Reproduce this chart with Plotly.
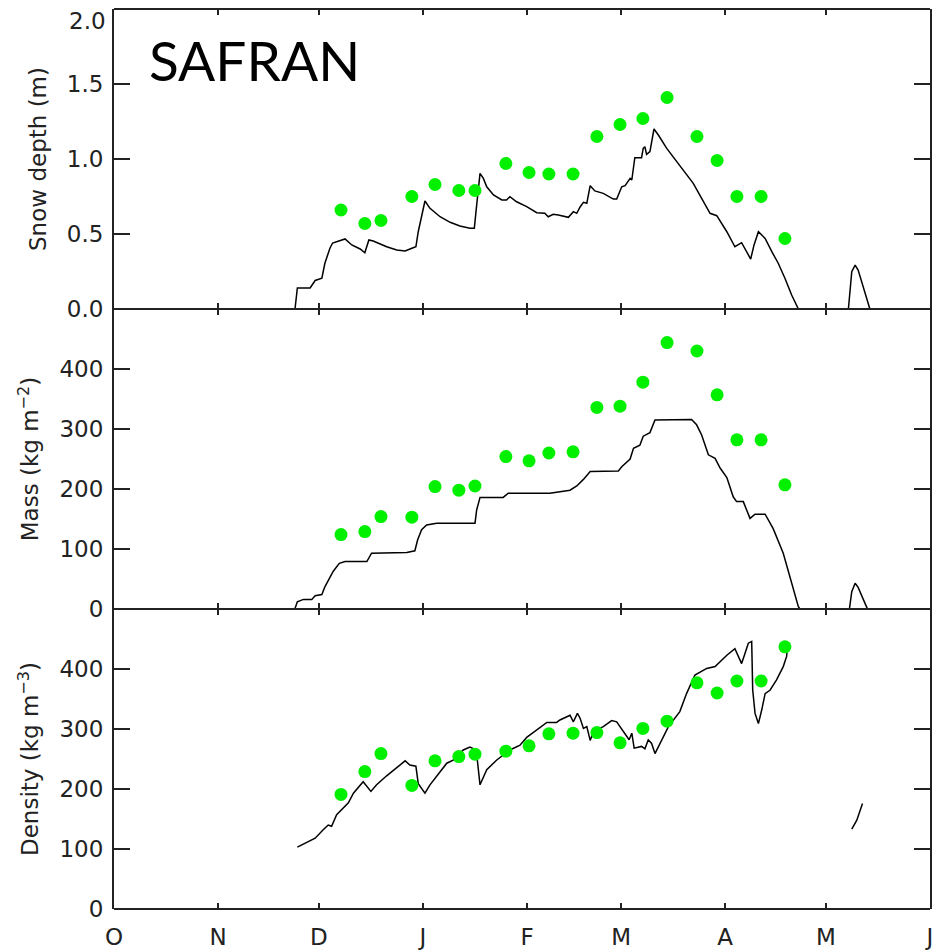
import plotly.graph_objects as go
from plotly.subplots import make_subplots

# x axis: days since 1 October
month_ticks = [0, 31, 61, 92, 123, 151, 182, 212, 243]
month_labels = ["O", "N", "D", "J", "F", "M", "A", "M", "J"]

# y ticks
depth_ticks = [0, 0.5, 1.0, 1.5, 2.0]
depth_labels = ["0.0", "0.5", "1.0", "1.5", "2.0"]
kg_ticks = [0, 100, 200, 300, 400]

# Observations (green dots)
obs_day = [67.6, 74.7, 79.5, 88.7, 95.6, 102.7, 107.5, 116.7, 123.6, 129.5,
           136.7, 143.8, 150.7, 157.5, 164.7, 173.6, 179.6, 185.5, 192.7, 199.8]
obs_depth = [0.66, 0.57, 0.59, 0.75, 0.83, 0.79, 0.79, 0.97, 0.91, 0.90,
             0.90, 1.15, 1.23, 1.27, 1.41, 1.15, 0.99, 0.75, 0.75, 0.47]
obs_mass = [124, 129, 154, 153, 204, 198, 205, 254, 247, 260,
            262, 336, 338, 378, 444, 430, 357, 282, 282, 207]
obs_density = [191, 229, 259, 206, 247, 254, 258, 263, 272, 292,
               293, 294, 277, 301, 313, 377, 360, 380, 380, 437]

# SAFRAN-driven model: snow depth (m)
depth_day = [53.9, 54.6, 56.4, 58.4, 59.9, 61.9, 62.8, 64.3, 65.1, 66.3, 68.8, 70.8,
             73.3, 74.7, 75.9, 77.2, 81.2, 84.2, 86.7, 88.7, 89.9, 90.6, 91.6, 92.6,
             94.1, 97.1, 100.1, 103.0, 106.0, 107.3, 107.8, 108.5, 109.0, 110.0, 111.0,
             113.0, 115.5, 116.9, 117.9, 119.9, 122.9, 125.9, 128.3, 129.3, 130.8, 132.3,
             135.3, 136.8, 137.8, 138.8, 139.8, 140.8, 141.8, 143.2, 145.7, 148.7, 149.7,
             151.2, 152.2, 153.7, 154.2, 155.1, 157.1, 157.6, 158.1, 158.6, 159.6, 160.8,
             162.1, 164.6, 167.6, 170.5, 172.5, 175.0, 177.5, 179.5, 182.5, 184.9, 186.9,
             189.6, 190.6, 191.9, 193.9, 195.9, 197.8, 199.8, 201.8, 203.8,
             218.7, 219.7, 220.7, 221.6, 223.1, 225.1]
depth_val = [0.0, 0.14, 0.14, 0.14, 0.19, 0.205, 0.305, 0.405, 0.44, 0.45, 0.467, 0.427,
             0.40, 0.375, 0.46, 0.453, 0.415, 0.393, 0.387, 0.405, 0.415, 0.515, 0.627, 0.72,
             0.671, 0.615, 0.578, 0.553, 0.538, 0.538, 0.649, 0.804, 0.904, 0.871, 0.815,
             0.76, 0.727, 0.727, 0.749, 0.715, 0.682, 0.642, 0.638, 0.615, 0.631, 0.627,
             0.611, 0.649, 0.638, 0.68, 0.711, 0.705, 0.822, 0.787, 0.771, 0.733, 0.733,
             0.815, 0.822, 0.871, 0.86, 1.009, 1.009, 1.071, 1.082, 1.031, 1.049, 1.20,
             1.16, 1.071, 0.982, 0.893, 0.838, 0.738, 0.638, 0.622, 0.515, 0.415, 0.442,
             0.333, 0.427, 0.515, 0.471, 0.382, 0.305, 0.205, 0.093, 0.0,
             0.0, 0.249, 0.293, 0.26, 0.149, 0.0]

# Model: snow mass (kg m-2)
mass_day = [53.9, 54.6, 56.4, 58.9, 59.9, 61.9, 62.8, 64.3, 65.3, 67.1, 68.8, 75.3,
            76.7, 87.2, 89.6, 90.4, 91.6, 93.1, 96.1, 107.5, 108.0, 109.0, 115.9, 117.4,
            129.8, 135.8, 137.8, 139.8, 141.8, 150.2, 151.2, 153.7, 154.7, 156.6, 157.6,
            159.6, 161.1, 172.0, 173.5, 175.0, 177.0, 179.0, 180.5, 182.5, 184.4, 185.4,
            187.4, 189.4, 190.9, 193.9, 196.3, 199.3, 201.3, 203.8, 204.3,
            219.0, 219.7, 220.7, 221.6, 224.3]
mass_val = [1, 12, 16, 16, 22, 24, 37, 54, 63, 76, 79, 79,
            93, 94, 97, 115, 132, 140, 143, 143, 165, 186, 186, 193,
            193, 198, 205, 216, 229, 230, 237, 250, 268, 273, 288,
            294, 315, 316, 307, 290, 257, 251, 235, 219, 187, 179,
            179, 151, 158, 158, 134, 93, 54, 4, 0,
            0, 29, 43, 36, 1]

# Model: snow density (kg m-3); None = no snow
dens_day = [54.6, 56.9, 59.9, 62.3, 63.8, 64.8, 66.3, 69.8, 71.3, 74.2, 76.5, 78.2,
            81.2, 86.7, 88.1, 89.9, 90.6, 92.6, 94.1, 96.6, 99.1, 101.0, 104.0, 106.0,
            107.5, 108.2, 109.0, 111.0, 113.9, 117.9, 120.9, 122.9, 125.9, 128.9, 131.8,
            132.8, 135.8, 136.8, 138.0, 138.8, 139.8, 140.8, 141.8, 142.8, 145.7, 148.2,
            149.7, 151.2, 152.7, 153.4, 154.2, 154.9, 157.1, 158.1, 159.1, 160.1, 161.1,
            163.1, 165.1, 168.5, 170.5, 173.0, 176.5, 179.0, 180.5, 182.5, 184.9, 185.6,
            186.9, 187.9, 188.9, 189.9, 190.2, 190.9, 191.9, 192.9, 193.9, 195.4, 197.3,
            199.3, 200.3, 200.5, 210.0, 219.7, 221.2, 222.9]
dens_val = [103, 109, 118, 132, 140, 138, 157, 177, 193, 212, 196, 207,
            222, 247, 240, 238, 209, 193, 207, 225, 243, 248, 265, 270,
            266, 248, 207, 232, 248, 265, 273, 286, 299, 311, 311,
            315, 323, 312, 326, 318, 301, 304, 281, 296, 304, 314,
            312, 299, 288, 282, 293, 268, 271, 267, 282, 276, 259,
            282, 304, 329, 359, 390, 401, 404, 412, 423, 434, 426,
            409, 426, 443, 446, 365, 326, 309, 332, 359, 365, 382,
            404, 421, 433, None, 133, 148, 176]

FONT = "DejaVu Sans"
TXT = "#222222"
AX = "#222222"
GREEN = "rgb(0,240,0)"
FS = 23

fig = make_subplots(rows=3, cols=1, shared_xaxes=True, vertical_spacing=0)

series = [(depth_day, depth_val, obs_depth), (mass_day, mass_val, obs_mass),
          (dens_day, dens_val, obs_density)]
for i, (xd, yd, ob) in enumerate(series, start=1):
    fig.add_trace(go.Scatter(x=xd, y=yd, mode="lines",
                             line=dict(color="black", width=1.5),
                             connectgaps=False, showlegend=False), row=i, col=1)
    fig.add_trace(go.Scatter(x=obs_day, y=ob, mode="markers",
                             marker=dict(color=GREEN, size=13, line=dict(width=0)),
                             showlegend=False), row=i, col=1)

tick_common = dict(ticks="inside", tickcolor=AX, tickwidth=1.5, mirror="ticks",
                   showgrid=False, zeroline=False, ticklabeloverflow="allow",
                   automargin=False, tickfont=dict(family=FONT, size=FS, color=TXT))

for i in range(1, 4):
    fig.update_xaxes(range=[0, 243], tickvals=month_ticks, ticktext=month_labels,
                     showline=False, ticklen=6, ticklabelstandoff=12,
                     **tick_common, row=i, col=1)

ycommon = dict(showline=True, linecolor=AX, linewidth=2, ticklen=16,
               ticklabelstandoff=4, **tick_common)
title_font = dict(family=FONT, size=FS, color=TXT)
# top label "2.0" is drawn as an annotation just inside the frame (like the original)
fig.update_yaxes(range=[0, 2.0], tickvals=depth_ticks,
                 ticktext=depth_labels[:-1] + [""],
                 title=dict(text="Snow depth (m)", standoff=14, font=title_font),
                 **ycommon, row=1, col=1)
fig.update_yaxes(range=[0, 500], tickvals=kg_ticks,
                 title=dict(text="Mass (kg m<sup>−2</sup>)", standoff=14, font=title_font),
                 **ycommon, row=2, col=1)
fig.update_yaxes(range=[0, 500], tickvals=kg_ticks,
                 title=dict(text="Density (kg m<sup>−3</sup>)", standoff=14, font=title_font),
                 **ycommon, row=3, col=1)

fig.add_annotation(text=depth_labels[-1], xref="paper", yref="y domain",
                   x=0, y=1, xanchor="right", yanchor="top", xshift=-6, yshift=3,
                   showarrow=False, font=dict(family=FONT, size=FS, color=TXT))

# horizontal panel frame lines (shared between panels)
for yb in [0, 1 / 3, 2 / 3, 1]:
    fig.add_shape(type="line", xref="paper", yref="paper", x0=0, x1=1, y0=yb, y1=yb,
                  line=dict(color=AX, width=2), layer="above")

fig.add_annotation(text="SAFRAN", xref="x domain", yref="y domain",
                   x=0.04, y=0.83, xanchor="left", yanchor="middle", showarrow=False,
                   font=dict(family="Lato", size=55, color="black"))

fig.update_layout(width=938, height=952, margin=dict(l=114, r=8, t=9, b=43),
                  paper_bgcolor="white", plot_bgcolor="white")

fig.write_html("out.html")
